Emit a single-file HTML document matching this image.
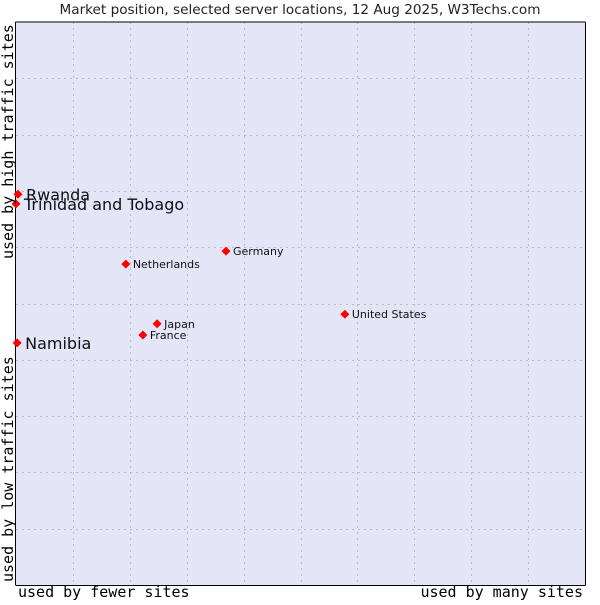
<!DOCTYPE html>
<html><head><meta charset="utf-8"><style>
body{margin:0;background:#fff}
svg text{font-family:"DejaVu Sans","Liberation Sans",sans-serif}
</style></head><body>
<svg id="chart" width="600" height="600">
<rect width="600" height="600" fill="#fff"/>
<text x="300" y="14" text-anchor="middle" font-size="13.6" fill="#222">Market position, selected server locations, 12 Aug 2025, W3Techs.com</text>
<rect x="16" y="22" width="569" height="563" fill="#e4e6f8"/>
<g id="grid"></g>
<line x1="15.5" y1="22" x2="15.5" y2="585" stroke="#000"/>
<line x1="15.5" y1="22" x2="585.5" y2="22" stroke="#000"/>
<line x1="585.5" y1="22" x2="585.5" y2="585.5" stroke="#000"/>
<line x1="15.5" y1="585.5" x2="585.5" y2="585.5" stroke="#000"/>
<g id="points"></g>
<text x="18" y="597" font-size="15" fill="#000" style="font-family:'DejaVu Sans Mono',monospace">used by fewer sites</text>
<text x="583" y="597" text-anchor="end" font-size="15" fill="#000" style="font-family:'DejaVu Sans Mono',monospace">used by many sites</text>
<text transform="translate(13,582) rotate(-90)" font-size="15" fill="#000" style="font-family:'DejaVu Sans Mono',monospace">used by low traffic sites</text>
<text transform="translate(13,259) rotate(-90)" font-size="15" fill="#000" style="font-family:'DejaVu Sans Mono',monospace">used by high traffic sites</text>
</svg>
<script>
const names=["Rwanda","Trinidad and Tobago","Namibia","Netherlands","Germany","United States","Japan","France"];
const xVals=[0.35,0,0.2,19.3,36.9,57.8,24.8,22.3];
const yVals=[69.4,67.7,43.0,57.0,59.3,48.1,46.4,44.4];
const highlighted=[true,true,true,false,false,false,false,false];
const X0=16,X1=585,Y0=585,Y1=22;
const sx=v=>X0+v/100*(X1-X0), sy=v=>Y0-v/100*(Y0-Y1);
const NS="http://www.w3.org/2000/svg";
const grid=document.getElementById('grid');
for(let i=1;i<10;i++){
 const gx=Math.round(sx(i*10))+0.5, gy=Math.round(sy(i*10))+0.5;
 const v=document.createElementNS(NS,'line');
 v.setAttribute('x1',gx);v.setAttribute('x2',gx);v.setAttribute('y1',Y1);v.setAttribute('y2',Y0);
 v.setAttribute('stroke','#bbbbbb');v.setAttribute('stroke-dasharray','2,4');
 
 
 grid.appendChild(v);
 const h=document.createElementNS(NS,'line');
 h.setAttribute('x1',X0);h.setAttribute('x2',X1);h.setAttribute('y1',gy);h.setAttribute('y2',gy);
 h.setAttribute('stroke','#bbbbbb');h.setAttribute('stroke-dasharray','2,4');
 
 
 grid.appendChild(h);
}
const pts=document.getElementById('points');
names.forEach((n,i)=>{
 const px=sx(xVals[i]),py=sy(yVals[i]);
 const d=document.createElementNS(NS,'polygon');
 d.setAttribute('points',`${px},${py-4.5} ${px+4.5},${py} ${px},${py+4.5} ${px-4.5},${py}`);
 d.setAttribute('fill','#f00');
 
 
 pts.appendChild(d);
 const t=document.createElementNS(NS,'text');
 const big=highlighted[i];
 t.setAttribute('x',px+(big?8:7));t.setAttribute('y',py+(big?6:4));
 t.setAttribute('font-size',big?16:11);t.setAttribute('fill','#111');
 t.textContent=n;
 
 
 pts.appendChild(t);
});
</script>
</body></html>
